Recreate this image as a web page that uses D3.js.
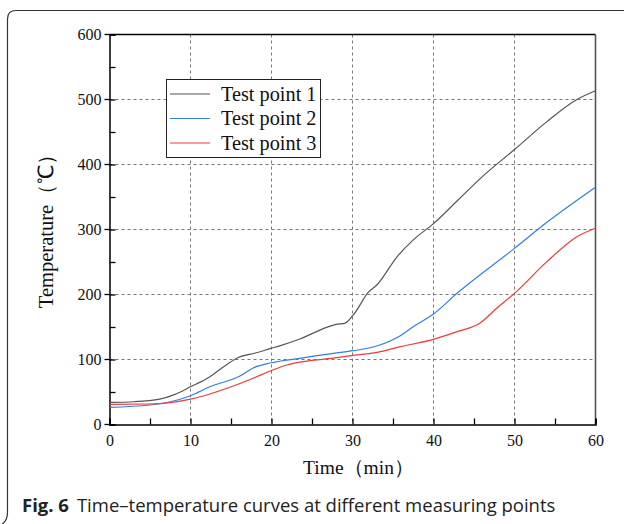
<!DOCTYPE html>
<html>
<head>
<meta charset="utf-8">
<script src="https://cdn.jsdelivr.net/npm/d3@7"></script>
<style>
  body { margin: 0; background: #fff; }
  svg { display: block; }
</style>
</head>
<body>
<script>
// time (min) and temperature (°C)
const time1 = [0, 3, 6.2, 8, 10, 12.4, 14, 15.9, 18, 19.9, 21, 23.5, 26.8, 28, 29.1, 30.1, 32, 33, 35.5, 37.5, 40, 43, 46, 50, 54, 57.7, 60];
const temp1 = [34, 35, 39, 46, 58, 73.5, 88, 103, 110, 117, 121, 131.5, 149.5, 154, 156, 168.5, 204, 214.6, 258, 284, 309, 345, 381, 423, 466, 500, 513.5];

const time2 = [0, 5, 7.5, 10, 12.4, 16.1, 17.8, 20, 23.5, 27.6, 30.1, 33, 35.9, 37.5, 40, 42.9, 50, 54, 60];
const temp2 = [26.4, 30, 35, 44.3, 58, 74.6, 87.4, 95, 101.8, 109.5, 113.6, 120.8, 136.6, 150.5, 170, 201.8, 271, 311, 365];

const time3 = [0, 5, 10, 12.4, 16.1, 17.8, 20, 21.9, 23.5, 27.6, 30.1, 33, 35.9, 40, 42.9, 45.7, 47.8, 50, 54, 57.7, 60];
const temp3 = [31, 31.5, 39, 47, 63, 71.5, 83, 91.5, 96, 102, 106.4, 111, 119.7, 131, 142.8, 155.7, 178.8, 201.8, 250.5, 289, 302];

const seriesNames = ["Test point 1", "Test point 2", "Test point 3"];
const seriesColors = ["#555555", "#2f7ee8", "#ee3a3a"];
const xTicks = [0, 10, 20, 30, 40, 50, 60];
const yTicks = [0, 100, 200, 300, 400, 500, 600];

const series = [
  time1.map((t, i) => ({ t: t, v: temp1[i] })),
  time2.map((t, i) => ({ t: t, v: temp2[i] })),
  time3.map((t, i) => ({ t: t, v: temp3[i] }))
];

const W = 624, H = 524;
const pLeft = 109.5, pRight = 595.5, pTop = 34.5, pBottom = 424.5;
const serif = "'Liberation Serif', 'Times New Roman', serif";

const svg = d3.select("body").append("svg")
  .attr("width", W).attr("height", H);

// outer frame: top + left edges with rounded corners
svg.append("path")
  .attr("d", "M624,10.5 L16,10.5 Q7.5,10.5 7.5,19 L7.5,512 Q7.5,521 2,524")
  .attr("fill", "none").attr("stroke", "#333").attr("stroke-width", 1.2);

const x = d3.scaleLinear().domain([0, 60]).range([pLeft, pRight]);
const y = d3.scaleLinear().domain([0, 600]).range([pBottom, pTop]);

// grid
svg.append("g").selectAll("line").data(xTicks.slice(1, -1)).enter().append("line")
  .attr("x1", d => x(d)).attr("x2", d => x(d))
  .attr("y1", pTop).attr("y2", pBottom)
  .attr("stroke", "#777").attr("stroke-width", 1).attr("stroke-dasharray", "3,3");
svg.append("g").selectAll("line").data(yTicks.slice(1, -1)).enter().append("line")
  .attr("x1", pLeft).attr("x2", pRight)
  .attr("y1", d => y(d)).attr("y2", d => y(d))
  .attr("stroke", "#777").attr("stroke-width", 1).attr("stroke-dasharray", "3,3");

// box top / right
svg.append("line").attr("x1", pLeft).attr("x2", pRight).attr("y1", pTop).attr("y2", pTop)
  .attr("stroke", "#000").attr("stroke-width", 1.3);
svg.append("line").attr("x1", pRight).attr("x2", pRight).attr("y1", pTop).attr("y2", pBottom)
  .attr("stroke", "#555").attr("stroke-width", 1.6);

// axes with inward ticks
const xAxis = svg.append("g")
  .attr("transform", "translate(0," + pBottom + ")")
  .call(d3.axisBottom(x).tickValues(d3.range(0, 61, 5)).tickSize(-6).tickPadding(10)
    .tickFormat(d => d % 10 === 0 ? d : ""));
const yAxis = svg.append("g")
  .attr("transform", "translate(" + pLeft + ",0)")
  .call(d3.axisLeft(y).tickValues(d3.range(0, 601, 50)).tickSize(-6).tickPadding(8)
    .tickFormat(d => d % 100 === 0 ? d : ""));

[xAxis, yAxis].forEach(g => {
  g.attr("font-family", serif).attr("font-size", 16);
  g.select(".domain").attr("stroke", "#000").attr("stroke-width", 1.5);
  g.selectAll(".tick line").attr("stroke", "#000").attr("stroke-width", 1.3);
  g.selectAll("text").attr("font-family", serif)
    .attr("font-size", 16).attr("fill", "#111");
});
// major y ticks stick out to the left as well
svg.append("g").selectAll("line").data(yTicks).enter().append("line")
  .attr("x1", pLeft - 5).attr("x2", pLeft).attr("y1", d => y(d)).attr("y2", d => y(d))
  .attr("stroke", "#000").attr("stroke-width", 1.3);

// curves
const line = d3.line().x(d => x(d.t)).y(d => y(d.v)).curve(d3.curveMonotoneX);
svg.append("g").selectAll("path").data(series).enter().append("path")
  .attr("d", line)
  .attr("fill", "none")
  .attr("stroke", (d, i) => seriesColors[i])
  .attr("stroke-width", 1.2);

// legend
const lg = svg.append("g");
lg.append("rect").attr("x", 166.5).attr("y", 79.5).attr("width", 154).attr("height", 78)
  .attr("fill", "#fff").attr("stroke", "#222").attr("stroke-width", 1);
seriesNames.forEach((name, i) => {
  const cy = 94 + i * 24.5;
  lg.append("line").attr("x1", 170).attr("x2", 210).attr("y1", cy).attr("y2", cy)
    .attr("stroke", seriesColors[i]).attr("stroke-width", 1.2);
  lg.append("text").attr("x", 221).attr("y", cy + 6.5)
    .attr("font-family", serif)
    .attr("font-size", 20.3).attr("fill", "#111").text(name);
});

// axis titles
svg.append("text")
  .attr("transform", "translate(53,226) rotate(-90)")
  .attr("text-anchor", "middle")
  .attr("font-family", serif)
  .attr("font-size", 20.5).attr("fill", "#111")
  .text("Temperature（℃）");
svg.append("text")
  .attr("x", (pLeft + pRight) / 2 + 6).attr("y", 474)
  .attr("text-anchor", "middle")
  .attr("font-family", serif)
  .attr("font-size", 19.5).attr("fill", "#111")
  .text("Time（min）");

// caption
const cap = svg.append("text").attr("x", 22).attr("y", 512)
  .attr("font-family", "'Open Sans', 'Noto Sans', sans-serif")
  .attr("font-size", 18.5).attr("fill", "#222");
cap.append("tspan").attr("font-weight", "bold").text("Fig. 6");
cap.append("tspan").attr("dx", 8).text("Time–temperature curves at different measuring points");
</script>
</body>
</html>
